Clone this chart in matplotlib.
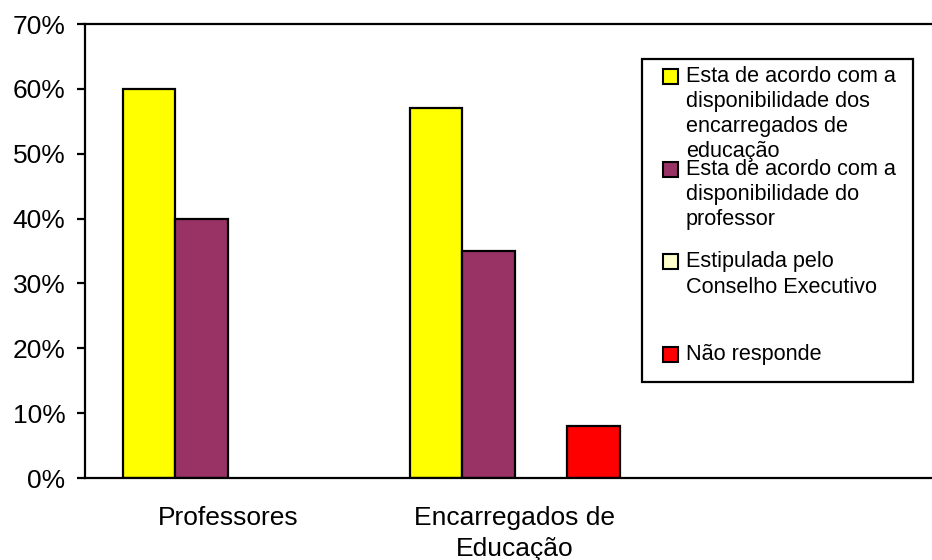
import matplotlib
matplotlib.use("Agg")
import matplotlib.pyplot as plt
import numpy as np
from matplotlib.patches import Rectangle

plt.rcParams["font.family"] = ["Liberation Sans", "DejaVu Sans"]

groups = ["Professores", "Encarregados de\nEducação"]
series = [
    "Esta de acordo com a\ndisponibilidade dos\nencarregados de\neducação",
    "Esta de acordo com a\ndisponibilidade do\nprofessor",
    "Estipulada pelo\nConselho Executivo",
    "Não responde",
]
colors = ["#FFFF00", "#993366", "#FFFFCC", "#FF0000"]
values = [
    [0.60, 0.57],   # encarregados
    [0.40, 0.35],   # professor
    [0.00, 0.00],   # conselho executivo
    [0.00, 0.08],   # não responde
]

fig = plt.figure(figsize=(9.32, 5.6), dpi=100)
ax = fig.add_axes([85 / 932, 82 / 560, 1 - 85 / 932, 454 / 560])

x = np.arange(len(groups))
w = 0.183
for i, (vals, c) in enumerate(zip(values, colors)):
    off = (i - 1.5) * w
    for xi, v in zip(x, vals):
        if v > 0:
            ax.bar(xi + off, v, w, color=c, edgecolor="black", linewidth=1.6, align="center")

ax.set_xlim(-0.498, 2.453)
ax.set_ylim(0, 0.70)
ticks = np.arange(0, 0.71, 0.1)
ax.set_yticks(ticks)
ax.set_yticklabels([f"{int(round(t * 100))}%" for t in ticks])
ax.set_xticks(x)
ax.set_xticklabels(groups, linespacing=1.4)

for s in ("left", "bottom", "top"):
    ax.spines[s].set_linewidth(1.6)
ax.spines["right"].set_visible(False)
ax.tick_params(axis="y", direction="out", length=6, width=1.6, labelsize=19, pad=8)
ax.tick_params(axis="x", length=0, labelsize=19, pad=20)

# legend box drawn by hand so the entries keep their fixed slots
H = 560
fig.patches.append(Rectangle((642 / 932, 1 - 382 / H), 271 / 932, 323 / H,
                             transform=fig.transFigure, facecolor="white",
                             edgecolor="black", linewidth=1.6, zorder=5))
slot0, step = 76, 92.7
for i, (name, c) in enumerate(zip(series, colors)):
    yc = slot0 + i * step
    fig.patches.append(Rectangle((663 / 932, 1 - (yc + 8) / H), 15 / 932, 15 / H,
                                 transform=fig.transFigure, facecolor=c,
                                 edgecolor="black", linewidth=1.5, zorder=6))
    fig.text(686 / 932, 1 - (yc - 10) / H, name, fontsize=15.6, va="top", ha="left",
             linespacing=1.26, zorder=7)

fig.savefig("out.png", dpi=100)
